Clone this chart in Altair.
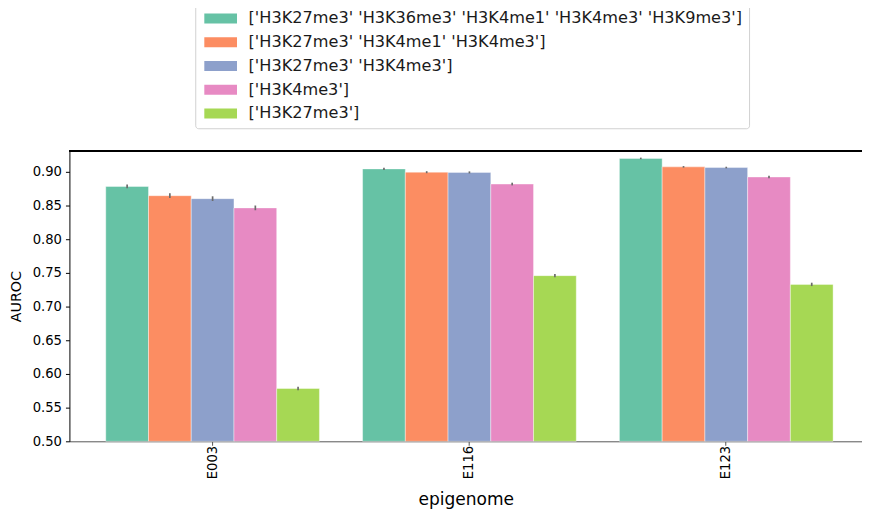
import altair as alt
import pandas as pd

epigenomes = ["E003", "E116", "E123"]
combos = [
    "['H3K27me3' 'H3K36me3' 'H3K4me1' 'H3K4me3' 'H3K9me3']",
    "['H3K27me3' 'H3K4me1' 'H3K4me3']",
    "['H3K27me3' 'H3K4me3']",
    "['H3K4me3']",
    "['H3K27me3']",
]
colors = ["#66c2a5", "#fc8d62", "#8da0cb", "#e78ac3", "#a6d854"]

auroc = {
    "E003": [0.8784, 0.8647, 0.8603, 0.8466, 0.5784],
    "E116": [0.9045, 0.8996, 0.8993, 0.8820, 0.7460],
    "E123": [0.9200, 0.9075, 0.9065, 0.8925, 0.7330],
}
err = {
    "E003": [0.0028, 0.0035, 0.0035, 0.0035, 0.0025],
    "E116": [0.0015, 0.0015, 0.0015, 0.0020, 0.0025],
    "E123": [0.0012, 0.0012, 0.0012, 0.0018, 0.0025],
}
y_ticks = [0.50, 0.55, 0.60, 0.65, 0.70, 0.75, 0.80, 0.85, 0.90]

rows = []
for e in epigenomes:
    for c, v, s in zip(combos, auroc[e], err[e]):
        rows.append({"epigenome": e, "marks": c, "AUROC": v, "err": s})
df = pd.DataFrame(rows)

FONT = "DejaVu Sans"
W, H = 800, 293

x_scale = alt.Scale(paddingInner=0.168, paddingOuter=0.127, align=0.557)
y_scale = alt.Scale(domain=[0.5, 0.931], nice=False, zero=False)

x_axis = alt.Axis(
    title="epigenome",
    labelAngle=270,
    labelFont=FONT,
    labelFontSize=13.3,
    labelColor="#000",
    labelPadding=0,
    tickSize=4,
    tickColor="#555",
    domainColor="#555",
    titleFont=FONT,
    titleFontSize=17.2,
    titleFontWeight="normal",
    titleColor="#000",
    titlePadding=12,
)
y_axis = alt.Axis(
    title="AUROC",
    values=y_ticks,
    format=".2f",
    grid=False,
    labelOverlap=False,
    labelFont=FONT,
    labelFontSize=13.3,
    labelColor="#000",
    labelPadding=4,
    tickSize=4,
    tickColor="#000",
    domainColor="#000",
    titleFont=FONT,
    titleFontSize=14.4,
    titleFontWeight="normal",
    titleColor="#000",
    titlePadding=9,
)

bars = alt.Chart(df).mark_bar(
    stroke="white", strokeWidth=0.8, strokeOpacity=0.5
).encode(
    x=alt.X("epigenome:N", sort=epigenomes, scale=x_scale, axis=x_axis),
    xOffset=alt.XOffset(
        "marks:N", sort=combos, scale=alt.Scale(paddingInner=0, paddingOuter=0)
    ),
    y=alt.Y("AUROC:Q", scale=y_scale, axis=y_axis),
    y2=alt.datum(0.5),
    color=alt.Color(
        "marks:N",
        sort=combos,
        scale=alt.Scale(domain=combos, range=colors),
        legend=alt.Legend(
            title=None,
            orient="none",
            legendX=127,
            legendY=-148,
            symbolType="M-3.3,-1H3.3V1H-3.3Z",
            symbolSize=100,
            symbolOffset=11.5,
            symbolStrokeWidth=0,
            symbolOpacity=1,
            labelFont=FONT,
            labelFontSize=16.3,
            labelColor="#1a1a1a",
            labelOffset=20,
            labelLimit=1000,
            rowPadding=7,
            padding=6,
            strokeColor="#d0d0d0",
            fillColor="white",
            cornerRadius=3,
        ),
    ),
)

errbars = alt.Chart(df).transform_calculate(
    lo="datum.AUROC - datum.err", hi="datum.AUROC + datum.err"
).mark_rule(color="#6b6b6b", strokeWidth=1.7).encode(
    x=alt.X("epigenome:N", sort=epigenomes, axis=x_axis),
    xOffset=alt.XOffset("marks:N", sort=combos),
    y=alt.Y("lo:Q", scale=y_scale, axis=y_axis),
    y2="hi:Q",
)

top_spine = alt.Chart(df).mark_rule(color="#000", strokeWidth=1).encode(
    x=alt.value(0), x2=alt.value(W + 10), y=alt.value(0)
)

chart = (
    alt.layer(bars, errbars, top_spine)
    .properties(
        width=W,
        height=H,
        autosize=alt.AutoSizeParams(type="none"),
        padding={"left": 62, "top": 142, "right": 0, "bottom": 72},
    )
    .configure_view(stroke=None)
)

chart.save("out.html", embed_options={"renderer": "svg", "actions": False})
